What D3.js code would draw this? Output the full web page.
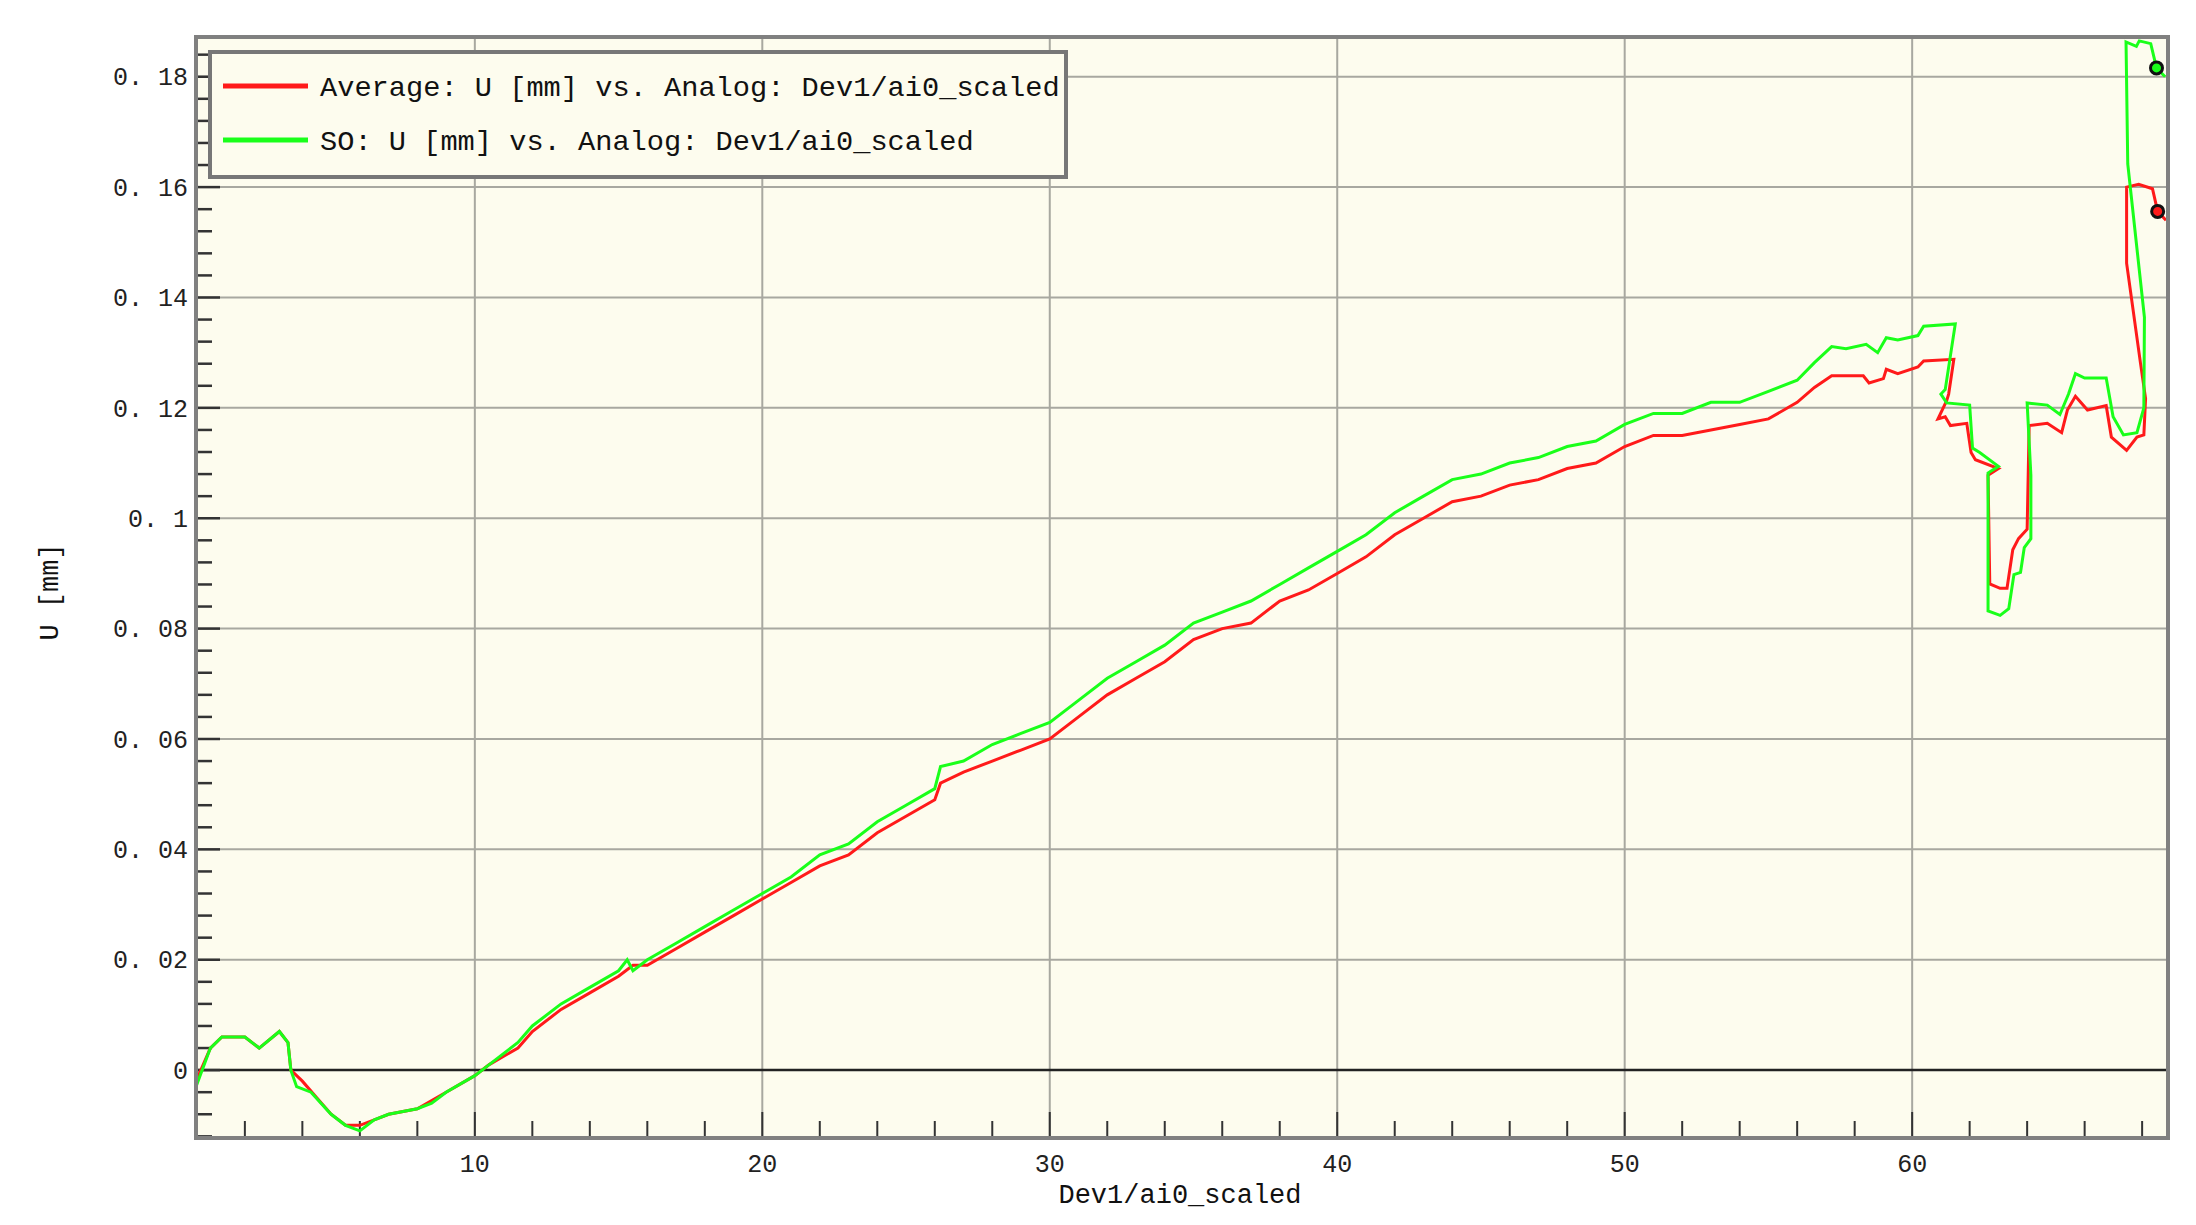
<!DOCTYPE html>
<html>
<head>
<meta charset="utf-8">
<script src="https://cdn.jsdelivr.net/npm/d3@7"></script>
<style>
  body { margin: 0; background: #fff; }
  text { font-family: "Liberation Mono", "DejaVu Sans Mono", monospace; }
</style>
</head>
<body>
<script>
// x values / U values
let avgX = [0.3,0.8,1.2,2,2.5,3.2,3.5,3.6,4,4.5,5,5.5,6,6.5,7,8,9,10,10.5,11.5,12,13,14,15,15.5,16,17,18,19,20,21,22,23,24,25,26,26.2,27,28,29,30,31,32,33,34,35,36,37,38,39,40,41,42,43,44,45,46,47,48,49,50,51,52,53,54,55,56,56.6,57.2,58.3,58.5,59,59.1,59.5,60.2,60.4,61.45,61.27,61.2,60.9,61.15,61.33,61.9,62.05,62.2,63,62.64,62.7,63.06,63.3,63.5,63.7,64,64.07,64.7,65.2,65.4,65.68,66.1,66.75,66.93,67.46,67.82,68.06,68.12,67.94,67.46,67.46,67.88,68.36,68.54,68.83]
let avgY = [-0.002,0.004,0.006,0.006,0.004,0.007,0.005,0,-0.002,-0.005,-0.008,-0.010,-0.010,-0.009,-0.008,-0.007,-0.004,-0.001,0.001,0.004,0.007,0.011,0.014,0.017,0.019,0.019,0.022,0.025,0.028,0.031,0.034,0.037,0.039,0.043,0.046,0.049,0.052,0.054,0.056,0.058,0.060,0.064,0.068,0.071,0.074,0.078,0.080,0.081,0.085,0.087,0.090,0.093,0.097,0.100,0.103,0.104,0.106,0.107,0.109,0.110,0.113,0.115,0.115,0.116,0.117,0.118,0.121,0.1237,0.1258,0.1258,0.1245,0.1253,0.127,0.1262,0.1274,0.1285,0.1288,0.1225,0.1213,0.118,0.1184,0.1168,0.1172,0.1119,0.1106,0.109,0.1078,0.0881,0.0873,0.0873,0.0943,0.0963,0.098,0.1168,0.1172,0.1155,0.1196,0.1221,0.1196,0.1204,0.1147,0.1123,0.1147,0.1151,0.1217,0.1282,0.1462,0.16,0.1605,0.1597,0.1556,0.154]

let sdX = [0.3,0.8,1.2,2,2.5,3.2,3.5,3.6,3.8,4.3,5,5.5,6,6.5,7,8,8.5,9,10,10.5,11.5,12,13,14,15,15.3,15.5,16,17,18,19,20,21,22,23,24,25,26,26.2,27,28,29,30,31,32,33,34,35,36,37,38,39,40,41,42,43,44,45,46,47,48,49,50,51,52,53,54,55,56,56.6,57.2,57.7,58.4,58.8,59.1,59.5,60.2,60.4,61.5,61.15,61.0,61.2,62.0,62.1,62.35,63.0,62.64,62.64,63.06,63.36,63.54,63.77,63.9,64.13,64.13,64.0,64.7,65.14,65.44,65.68,66.0,66.75,66.99,67.35,67.82,68.06,68.08,67.5,67.44,67.8,67.9,68.3,68.5,68.8]
let sdY = [-0.003,0.004,0.006,0.006,0.004,0.007,0.005,0,-0.003,-0.004,-0.008,-0.010,-0.011,-0.009,-0.008,-0.007,-0.006,-0.004,-0.001,0.001,0.005,0.008,0.012,0.015,0.018,0.020,0.018,0.020,0.023,0.026,0.029,0.032,0.035,0.039,0.041,0.045,0.048,0.051,0.055,0.056,0.059,0.061,0.063,0.067,0.071,0.074,0.077,0.081,0.083,0.085,0.088,0.091,0.094,0.097,0.101,0.104,0.107,0.108,0.110,0.111,0.113,0.114,0.117,0.119,0.119,0.121,0.121,0.123,0.125,0.1282,0.1311,0.1307,0.1315,0.130,0.1327,0.1323,0.1331,0.1348,0.1352,0.1233,0.1225,0.1209,0.1205,0.1127,0.1119,0.1094,0.1082,0.0832,0.0824,0.0836,0.0898,0.0902,0.0947,0.0963,0.1078,0.1209,0.1205,0.1188,0.1225,0.1262,0.1254,0.1254,0.1184,0.1151,0.1155,0.12,0.1364,0.1642,0.1863,0.1855,0.1865,0.186,0.1816,0.180]

let markX = [68.54, 68.5]
let markY = [0.1556, 0.1816]
let seriesNames = ["Average: U [mm] vs. Analog: Dev1/ai0_scaled", "SO: U [mm] vs. Analog: Dev1/ai0_scaled"]
let colors = ["#ff1a1a", "#1aff1a"]
let yTicks = [0, 0.02, 0.04, 0.06, 0.08, 0.1, 0.12, 0.14, 0.16, 0.18]
let yTickLabels = ["0", "0. 02", "0. 04", "0. 06", "0. 08", "0. 1", "0. 12", "0. 14", "0. 16", "0. 18"]
let xTicks = [10, 20, 30, 40, 50, 60]

let width = 2196, height = 1225
let padding = {left:196, right:28, top:37, bottom:87}
let pw = width - padding.left - padding.right
let ph = height - padding.top - padding.bottom

let svg = d3.select("body").append("svg")
    .attr("width", width).attr("height", height)

let xScale = d3.scaleLinear().domain([0.3, 68.9]).range([0, pw])
let yScale = d3.scaleLinear().domain([-0.0123, 0.1872]).range([ph, 0])

let g = svg.append("g").attr("transform", "translate(" + padding.left + "," + padding.top + ")")

g.append("rect").attr("width", pw).attr("height", ph).attr("fill", "#fdfcee")

// grid
g.selectAll(".vgrid").data(xTicks).enter().append("line")
    .attr("x1", d => xScale(d)).attr("x2", d => xScale(d))
    .attr("y1", 0).attr("y2", ph)
    .attr("stroke", "#a8a8a0").attr("stroke-width", 2)
g.selectAll(".hgrid").data(yTicks).enter().append("line")
    .attr("x1", 0).attr("x2", pw)
    .attr("y1", d => yScale(d)).attr("y2", d => yScale(d))
    .attr("stroke", d => d === 0 ? "#222" : "#a8a8a0").attr("stroke-width", d => d === 0 ? 2.5 : 2)

// minor ticks
let yMinor = d3.range(-0.012, 0.1875, 0.004)
g.selectAll(".ymin").data(yMinor).enter().append("line")
    .attr("x1", 0).attr("y1", d => yScale(d)).attr("y2", d => yScale(d))
    .attr("x2", d => Math.abs(Math.round(d * 1000) % 20) === 0 ? 24 : 16)
    .attr("stroke", "#333").attr("stroke-width", 2.5)
let xMinor = d3.range(2, 69, 2)
g.selectAll(".xmin").data(xMinor).enter().append("line")
    .attr("x1", d => xScale(d)).attr("x2", d => xScale(d))
    .attr("y1", ph).attr("y2", d => d % 10 === 0 ? ph - 26 : ph - 17)
    .attr("stroke", "#333").attr("stroke-width", 2)

// lines
let line = d3.line().x(d => xScale(d[0])).y(d => yScale(d[1]))
let avg = avgX.map((x, i) => [x, avgY[i]])
let sd = sdX.map((x, i) => [x, sdY[i]])
let clip = g.append("clipPath").attr("id", "clip").append("rect").attr("width", pw).attr("height", ph)
g.append("path").datum(avg).attr("d", line).attr("fill", "none")
    .attr("stroke", colors[0]).attr("stroke-width", 3).attr("clip-path", "url(#clip)")
g.append("path").datum(sd).attr("d", line).attr("fill", "none")
    .attr("stroke", colors[1]).attr("stroke-width", 3).attr("clip-path", "url(#clip)")
g.selectAll(".mark").data(markX).enter().append("circle")
    .attr("cx", d => xScale(d)).attr("cy", (d, i) => yScale(markY[i])).attr("r", 6)
    .attr("fill", (d, i) => colors[i]).attr("stroke", "#111").attr("stroke-width", 3)

// border
g.append("rect").attr("width", pw).attr("height", ph).attr("fill", "none")
    .attr("stroke", "#808080").attr("stroke-width", 4)

// tick labels
g.selectAll(".ylab").data(yTicks).enter().append("text")
    .attr("x", -8).attr("y", d => yScale(d)).attr("dy", "0.35em")
    .attr("text-anchor", "end").attr("font-size", 25).attr("fill", "#222")
    .text((d, i) => yTickLabels[i])
g.selectAll(".xlab").data(xTicks).enter().append("text")
    .attr("x", d => xScale(d)).attr("y", ph + 34)
    .attr("text-anchor", "middle").attr("font-size", 25).attr("fill", "#222")
    .text(d => d)

svg.append("text").attr("x", 1180).attr("y", 1203).attr("text-anchor", "middle")
    .attr("font-size", 27).attr("fill", "#111").text("Dev1/ai0_scaled")
svg.append("text").attr("transform", "translate(58,592) rotate(-90)").attr("text-anchor", "middle")
    .attr("font-size", 27).attr("fill", "#111").text("U [mm]")

// legend
let lg = svg.append("g").attr("transform", "translate(210,52)")
lg.append("rect").attr("width", 856).attr("height", 125)
    .attr("fill", "#fdfcee").attr("stroke", "#777").attr("stroke-width", 4)
seriesNames.forEach((name, i) => {
    lg.append("line").attr("x1", 13).attr("x2", 98).attr("y1", 34 + i * 54).attr("y2", 34 + i * 54)
        .attr("stroke", colors[i]).attr("stroke-width", 5)
    lg.append("text").attr("x", 110).attr("y", 34 + i * 54).attr("dy", "0.35em")
        .attr("font-size", 28).attr("fill", "#111")
        .attr("textLength", name.length * 17.2).attr("lengthAdjust", "spacingAndGlyphs")
        .text(name)
})
</script>
</body>
</html>
